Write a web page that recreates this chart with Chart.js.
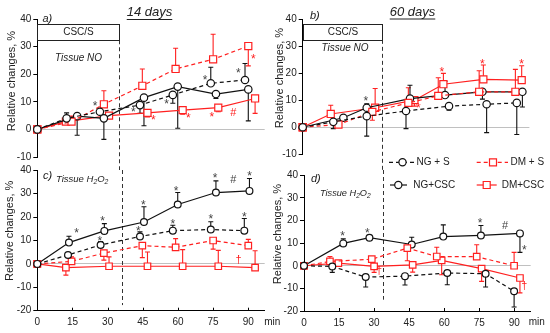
<!DOCTYPE html>
<html><head><meta charset="utf-8">
<script src="https://cdn.jsdelivr.net/npm/chart.js@4.4.0/dist/chart.umd.min.js"></script>
<style>
html,body{margin:0;padding:0;background:#fff;}
#wrap{position:relative;width:550px;height:333px;overflow:hidden;background:#fff;}
canvas{position:absolute;}
</style></head><body>
<div id="wrap">
<canvas id="cA" style="left:0px;top:0px;width:275px;height:170px" width="275" height="170"></canvas>
<canvas id="cC" style="left:0px;top:150px;width:290px;height:183px" width="290" height="183"></canvas>
<canvas id="cB" style="left:262px;top:0px;width:288px;height:170px" width="288" height="170"></canvas>
<canvas id="cD" style="left:262px;top:150px;width:288px;height:183px" width="288" height="183"></canvas>
</div>
<script>
// ---------- DATA ----------
const timeTicks = [0, 15, 30, 45, 60, 75, 90];
const seriesNames = ['NG + S', 'DM + S', 'NG+CSC', 'DM+CSC'];

// Panel a) 14 days, tissue NO
const aNgsT = [0, 12.5, 26.7, 43.8, 57.8, 74, 88.6];
const aNgsV = [0, 4.0, 6.4, 8.8, 12.5, 16.7, 17.9];
const aNgsE = [0, 2, 1, -3, -3, 5.8, 6];
const aDmsT = [0, 14.6, 28.4, 44.8, 59, 75, 90];
const aDmsV = [0, 2.8, 9.1, 15.8, 21.9, 25.4, 30.2];
const aDmsE = [0, 2, 4.9, 6.1, 7.5, 9.1, -7.2];
const aNgcT = [0, 17, 28.4, 45.5, 59.9, 76.2, 90];
const aNgcV = [0, 4.8, 4.0, 11.5, 15.5, 12.8, 14.5];
const aNgcE = [0, -6.9, -7.6, -10.2, -15.1, -1.6, -11.4];
const aDmcT = [0, 12.2, 30.6, 47, 62, 77.2, 92.9];
const aDmcV = [0, 2.8, 5.0, 6.0, 7.0, 7.9, 11.2];
const aDmcE = [0, 0, 0, -1.5, -1.5, -1.5, -5.4];
const aMarks = [[24.6, 9.4, '*', 'k'], [41, 7.0, '*', 'k'], [55.2, 10.0, '*', 'k'], [71.6, 18.9, '*', 'k'], [85.8, 21.3, '*', 'k'],
  [49.5, 4.4, '*', 'r'], [64.4, 5.0, '*', 'r'], [74.4, 5.4, '*', 'r'], [83.6, 5.8, '#', 'r'], [92.2, 26.4, '*', 'r']];

// Panel b) 60 days, tissue NO
const bNgsT = [0, 13.1, 27.4, 44.2, 62.6, 78.7, 91.6];
const bNgsV = [0, 2.0, 4.1, 6.0, 7.8, 8.5, 9.0];
const bNgsE = [0, -2.5, -7.4, -6.5, -1.5, -10.5, -11.7];
const bDmsT = [0, 15.3, 29.8, 45.2, 58, 75.5, 91];
const bDmsV = [0, 1.0, 5.7, 9.0, 11.6, 13.1, 13.1];
const bDmsE = [0, 0, -3.1, 5.6, 6.7, 7.8, 8.3];
const bNgcT = [0, 17.4, 27.4, 45.9, 60.9, 76.9, 94];
const bNgcV = [0, 3.5, 7.2, 10.6, 11.9, 13.1, 13.1];
const bNgcE = [0, 0, 1.5, 4.9, 5.1, -2.7, -5.6];
const bDmcT = [0, 12, 31, 47.8, 60.2, 77.3, 93.7];
const bDmcV = [0, 4.9, 7.2, 10.0, 15.9, 17.7, 17.4];
const bDmcE = [0, 3.2, 7.1, -2.2, 4, 5.3, 5.3];
const bMarks = [[27, 10.6, '*', 'k'], [49.5, 8.0, '*', 'r'], [59.5, 21.1, '*', 'r'], [76.9, 24.4, '*', 'r'], [93.7, 24.4, '*', 'r']];

// Panel c) 14 days, tissue H2O2
const cNgsT = [0, 13.1, 27, 43.8, 57.8, 74, 88.3];
const cNgsV = [0, 3.8, 8.1, 11.7, 14.2, 14.7, 14.2];
const cNgsE = [0, 0, 1.5, 2, 2.3, 3.3, 5.2];
const cDmsT = [0, 14.6, 28.4, 44.8, 59, 75, 90];
const cDmsV = [0, 1.1, 4.6, 7.8, 7.1, 10.0, 7.8];
const cDmsE = [0, 1.9, -3, -5.1, 3.7, -3.7, 2.7];
const cNgcT = [0, 13.5, 28.6, 45.5, 59.9, 76.2, 90.5];
const cNgcV = [0, 9.1, 14.1, 17.9, 25.4, 30.5, 31.2];
const cNgcE = [0, 2.7, 3.1, 6.5, 5.1, 5.0, 5.3];
const cDmcT = [0, 12.2, 30.6, 47, 62, 77.2, 92.9];
const cDmcV = [0, -1.6, -1, -1, -1, -1, -1.6];
const cDmcE = [0, -3.2, 4, 6.1, 7.1, 6.8, 7.2];
const cMarks = [[16.8, 14.1, '*', 'k'], [27.9, 19.4, '*', 'k'], [45.2, 26.1, '*', 'k'], [59.2, 32.2, '*', 'k'], [75.8, 37.5, '*', 'k'], [90.5, 38.6, '*', 'k'], [83.6, 36.0, '#', 'k'],
  [26.7, 10.8, '*', 'k'], [43.1, 15.1, '*', 'k'], [57.8, 18.2, '*', 'k'], [74, 20.1, '*', 'k'], [88.3, 21.2, '*', 'k'],
  [85.8, 1.6, '†', 'r']];

// Panel d) 60 days, tissue H2O2
const dNgsT = [0, 12.1, 26.4, 43.2, 61.3, 77.7, 89.9];
const dNgsV = [0, -0.3, -5, -4.6, -3.2, -3.5, -11.3];
const dNgsE = [0, -2.6, -4.4, -3.9, -5.2, -5.9, -6.9];
const dDmsT = [0, 11.1, 29, 44.2, 56.8, 73.9, 89.9];
const dDmsV = [0, 1.9, 2.9, 7.8, 4.1, 4.0, 0];
const dDmsE = [0, 2.2, 0, -5.6, 4.1, 5.3, 5.9];
const dNgcT = [0, 16.8, 28, 46.1, 59.6, 75.7, 92.4];
const dNgcV = [0, 9.9, 12.4, 9.4, 12.9, 13.4, 14.3];
const dNgcE = [0, 2, 0, 3.2, 5.2, 4.4, -8.4];
const dDmcT = [0, 14.7, 30, 46.5, 58.9, 76, 92.4];
const dDmcV = [0, 1.2, -0.3, 0.4, 2.4, -1.3, -5.4];
const dDmcE = [0, 0, -2.6, -3.2, -6.4, -5.6, -6.6];
const dMarks = [[16.5, 14.1, '*', 'k'], [27.1, 15.6, '*', 'k'], [75.3, 19.9, '*', 'k'], [94.3, 7.8, '*', 'k'], [86, 17.4, '#', 'k'],
  [32.1, -2.5, '†', 'r'], [94.3, -9.1, '†', 'r']];

// ---------- STYLE ----------
const FONT = "'Liberation Sans', Arial, sans-serif";
const RED = '#ff2020';
const BLACK = '#111111';
Chart.defaults.font.family = FONT;
Chart.defaults.font.size = 10;
Chart.defaults.color = '#222';
Chart.defaults.animation = false;

function makeDs(label, t, v, small) {
  const red = label.startsWith('DM');
  const dashed = label.indexOf(' + ') >= 0;
  return {
    label: label,
    data: t.map((x, i) => ({ x: x, y: v[i] })),
    borderColor: red ? RED : BLACK,
    borderWidth: 1.2,
    borderDash: dashed ? [4, 3] : [],
    pointStyle: red ? 'rect' : 'circle',
    pointRadius: red ? (small ? 4.6 : 5.0) : (small ? 3.4 : 3.7),
    pointBackgroundColor: '#fff',
    pointBorderColor: red ? RED : BLACK,
    pointBorderWidth: 1.2,
    tension: 0, fill: false, clip: false
  };
}

function scalesFor(o) {
  return {
    x: {
      type: 'linear', min: 0, max: 97, display: o.showX,
      afterFit: s => { s.height = o.xH; },
      afterBuildTicks: s => { s.ticks = timeTicks.map(v => ({ value: v })); },
      ticks: { stepSize: 15, includeBounds: false, padding: 2, maxRotation: 0, autoSkip: false, font: { size: 10 }, color: '#222' },
      grid: { drawOnChartArea: false, tickLength: 4, tickColor: 'rgba(0,0,0,0)', lineWidth: 1 },
      border: { color: '#000', width: 1 }
    },
    y: {
      min: o.yMin, max: 40,
      afterFit: s => { s.width = o.yW; },
      ticks: { stepSize: 10, padding: 2, font: { size: 10 }, color: '#222' },
      grid: {
        color: c => (c.tick && c.tick.value === 0) ? '#c0c0c0' : 'rgba(0,0,0,0)',
        tickColor: '#000', tickLength: 4, lineWidth: 1
      },
      border: { color: '#000', width: 1 }
    }
  };
}

function yTitle(ctx, x, y) {
  ctx.save(); ctx.translate(x, y); ctx.rotate(-Math.PI / 2);
  ctx.font = '11px ' + FONT; ctx.fillStyle = '#222'; ctx.textAlign = 'center'; ctx.textBaseline = 'middle';
  ctx.fillText('Relative changes, %', 0, 0); ctx.restore();
}
function text(ctx, s, x, y, font, align, color) {
  ctx.save(); ctx.font = font; ctx.fillStyle = color || '#222'; ctx.textAlign = align || 'left'; ctx.textBaseline = 'middle';
  ctx.fillText(s, x, y); ctx.restore();
}
function underlined(ctx, s, cx, y, size, uy) {
  ctx.save(); ctx.font = 'italic ' + size + 'px ' + FONT; ctx.fillStyle = '#222'; ctx.textAlign = 'center'; ctx.textBaseline = 'middle';
  ctx.fillText(s, cx, y); const w = ctx.measureText(s).width;
  ctx.strokeStyle = '#222'; ctx.lineWidth = 1; ctx.beginPath(); ctx.moveTo(cx - w / 2, uy + 0.5); ctx.lineTo(cx + w / 2, uy + 0.5); ctx.stroke();
  ctx.restore();
}
function h2o2(ctx, x, y, size) {
  ctx.save(); ctx.fillStyle = '#222'; ctx.textAlign = 'left'; ctx.textBaseline = 'middle';
  const big = 'italic ' + size + 'px ' + FONT, small = 'italic ' + (size * 0.72).toFixed(1) + 'px ' + FONT;
  [['Tissue H', big, 0], ['2', small, 3], ['O', big, 0], ['2', small, 3]].forEach(p => {
    ctx.font = p[1]; ctx.fillText(p[0], x, y + p[2]); x += ctx.measureText(p[0]).width;
  });
  ctx.restore();
}
function legendItem(ctx, x1, x2, px, y, color, dashed, rect, label, tx) {
  ctx.save(); ctx.strokeStyle = color; ctx.lineWidth = 1.2; ctx.setLineDash(dashed ? [4, 3] : []);
  ctx.beginPath(); ctx.moveTo(x1, y); ctx.lineTo(x2, y); ctx.stroke(); ctx.setLineDash([]);
  ctx.fillStyle = '#fff'; ctx.beginPath();
  if (rect) ctx.rect(px - 3.5, y - 3.5, 7, 7); else ctx.arc(px, y, 3.6, 0, Math.PI * 2);
  ctx.fill(); ctx.stroke();
  ctx.fillStyle = '#222'; ctx.font = '10px ' + FONT; ctx.textAlign = 'left'; ctx.textBaseline = 'middle';
  ctx.fillText(label, tx, y); ctx.restore();
}

function makeDeco(p) {
  return {
    id: 'deco',
    beforeDatasetsDraw(chart) {
      const ctx = chart.ctx, xs = chart.scales.x, ys = chart.scales.y;
      // small inward ticks on the time axis
      if (xs.options.display) {
        ctx.save(); ctx.strokeStyle = '#000'; ctx.lineWidth = 1;
        timeTicks.forEach(v => {
          const x = Math.round(xs.getPixelForValue(v)) + 0.5;
          ctx.beginPath(); ctx.moveTo(x, ys.bottom); ctx.lineTo(x, ys.bottom - 3); ctx.stroke();
        });
        ctx.restore();
      }
      // CSC/S box and dashed separator
      const xd = xs.getPixelForValue(p.dashT);
      ctx.save(); ctx.strokeStyle = '#333'; ctx.lineWidth = 1; ctx.setLineDash([4, 3]);
      const y1 = p.box ? ys.getPixelForValue(32.3) : p.dashTop;
      const y2 = p.box ? chart.height : ys.getPixelForValue(p.dashEnd);
      ctx.beginPath(); ctx.moveTo(Math.round(xd) + 0.5, y1); ctx.lineTo(Math.round(xd) + 0.5, y2); ctx.stroke();
      ctx.restore();
      if (p.box) {
        const x0 = Math.round(xs.getPixelForValue(0)) + 0.5, xb = Math.round(xd) + 0.5;
        const yt = Math.round(ys.getPixelForValue(38.3)) + 0.5, yb = Math.round(ys.getPixelForValue(32.3)) + 0.5;
        ctx.save(); ctx.strokeStyle = '#222'; ctx.lineWidth = 1; ctx.strokeRect(x0, yt, xb - x0, yb - yt); ctx.restore();
        text(ctx, 'CSC/S', (x0 + xb) / 2, (yt + yb) / 2, '10px ' + FONT, 'center');
      }
      // error bars
      p.errs.forEach((errArr, di) => {
        const meta = chart.getDatasetMeta(di), ds = chart.data.datasets[di];
        ctx.save(); ctx.strokeStyle = ds.borderColor; ctx.lineWidth = 1.1; ctx.setLineDash([]);
        meta.data.forEach((pt, j) => {
          const e = errArr[j]; if (!e) return;
          const tip = ys.getPixelForValue(ds.data[j].y + e);
          ctx.beginPath(); ctx.moveTo(pt.x, pt.y); ctx.lineTo(pt.x, tip);
          ctx.moveTo(pt.x - 2.5, tip); ctx.lineTo(pt.x + 2.5, tip); ctx.stroke();
        });
        ctx.restore();
      });
    },
    afterDatasetsDraw(chart) {
      const ctx = chart.ctx, xs = chart.scales.x, ys = chart.scales.y;
      p.marks.forEach(m => {
        const x = xs.getPixelForValue(m[0]), y = ys.getPixelForValue(m[1]);
        const col = m[3] === 'r' ? RED : '#444';
        if (m[2] === '*') text(ctx, '*', x, y + 3, '12px ' + FONT, 'center', col);
        else text(ctx, m[2], x, y, '11px ' + FONT, 'center', col);
      });
      p.draw(ctx, chart);
    }
  };
}

function build(id, o, sets, errs, marks) {
  const datasets = sets.map((s, i) => makeDs(seriesNames[i], s[0], s[1], o.showX));
  return new Chart(document.getElementById(id), {
    type: 'line',
    data: { datasets: datasets },
    options: {
      responsive: false, maintainAspectRatio: false, animation: false, events: [],
      layout: { padding: o.pad },
      plugins: { legend: { display: false }, tooltip: { enabled: false } },
      scales: scalesFor(o)
    },
    plugins: [makeDeco({ errs: errs, marks: marks, dashT: o.dashT, box: o.box, dashTop: o.dashTop, dashEnd: o.dashEnd, draw: o.draw })]
  });
}

// Panel a
build('cA', { showX: false, xH: 0, yW: 37.3, yMin: -10, pad: { top: 19, right: 10.3, bottom: 13, left: 0 }, dashT: 35, box: true,
  draw: (ctx, chart) => {
    yTitle(ctx, 12, 81);
    text(ctx, 'a)', 42.5, 18.5, 'italic 11px ' + FONT, 'left');
    underlined(ctx, '14 days', 149.5, 12.5, 13, 19);
    text(ctx, 'Tissue NO', 78.5, 58.3, 'italic 10px ' + FONT, 'center');
  } },
  [[aNgsT, aNgsV], [aDmsT, aDmsV], [aNgcT, aNgcV], [aDmcT, aDmcV]], [aNgsE, aDmsE, aNgcE, aDmcE], aMarks);

// Panel b
build('cB', { showX: false, xH: 0, yW: 40.7, yMin: -10, pad: { top: 19, right: 20.6, bottom: 15.7, left: 0 }, dashT: 34, box: true,
  draw: (ctx, chart) => {
    yTitle(ctx, 17.5, 78);
    text(ctx, 'b)', 48, 16, 'italic 11px ' + FONT, 'left');
    underlined(ctx, '60 days', 150.5, 12, 13, 18.5);
    text(ctx, 'Tissue NO', 83, 48.3, 'italic 10px ' + FONT, 'center');
  } },
  [[bNgsT, bNgsV], [bDmsT, bDmsV], [bNgcT, bNgcV], [bDmcT, bDmcV]], [bNgsE, bDmsE, bNgcE, bDmcE], bMarks);

// Panel c
build('cC', { showX: true, xH: 22.3, yW: 37.3, yMin: -20, pad: { top: 20.3, right: 25.3, bottom: 0, left: 0 }, dashT: 36, box: false, dashTop: 20, dashEnd: -17.6,
  draw: (ctx, chart) => {
    yTitle(ctx, 10, 80.8);
    text(ctx, 'c)', 43, 25.7, 'italic 11px ' + FONT, 'left');
    h2o2(ctx, 56, 29.3, 9.5);
    text(ctx, 'min', chart.scales.x.right - 0.5, chart.scales.x.top + 11.5, '10px ' + FONT, 'left');
  } },
  [[cNgsT, cNgsV], [cDmsT, cDmsV], [cNgcT, cNgcV], [cDmcT, cDmcV]], [cNgsE, cDmsE, cNgcE, cDmcE], cMarks);

// Panel d
build('cD', { showX: true, xH: 22, yW: 42, yMin: -20, pad: { top: 25.3, right: 19.3, bottom: 0, left: 0 }, dashT: 34, box: false, dashTop: 20, dashEnd: -15,
  draw: (ctx, chart) => {
    yTitle(ctx, 16, 84);
    text(ctx, 'd)', 49, 29, 'italic 11px ' + FONT, 'left');
    h2o2(ctx, 58, 43, 9.2);
    text(ctx, 'min', chart.scales.x.right - 2, chart.scales.x.top + 11.5, '10px ' + FONT, 'left');
    legendItem(ctx, 127, 152, 140.5, 12.3, BLACK, true, false, seriesNames[0], 154.5);
    legendItem(ctx, 214.7, 246, 231, 12.3, RED, true, true, seriesNames[1], 248.5);
    legendItem(ctx, 128, 145, 136.3, 35, BLACK, false, false, seriesNames[2], 151.3);
    legendItem(ctx, 214.7, 234.7, 224.7, 35, RED, false, true, seriesNames[3], 239.7);
  } },
  [[dNgsT, dNgsV], [dDmsT, dDmsV], [dNgcT, dNgcV], [dDmcT, dDmcV]], [dNgsE, dDmsE, dNgcE, dDmcE], dMarks);
</script>
</body></html>
